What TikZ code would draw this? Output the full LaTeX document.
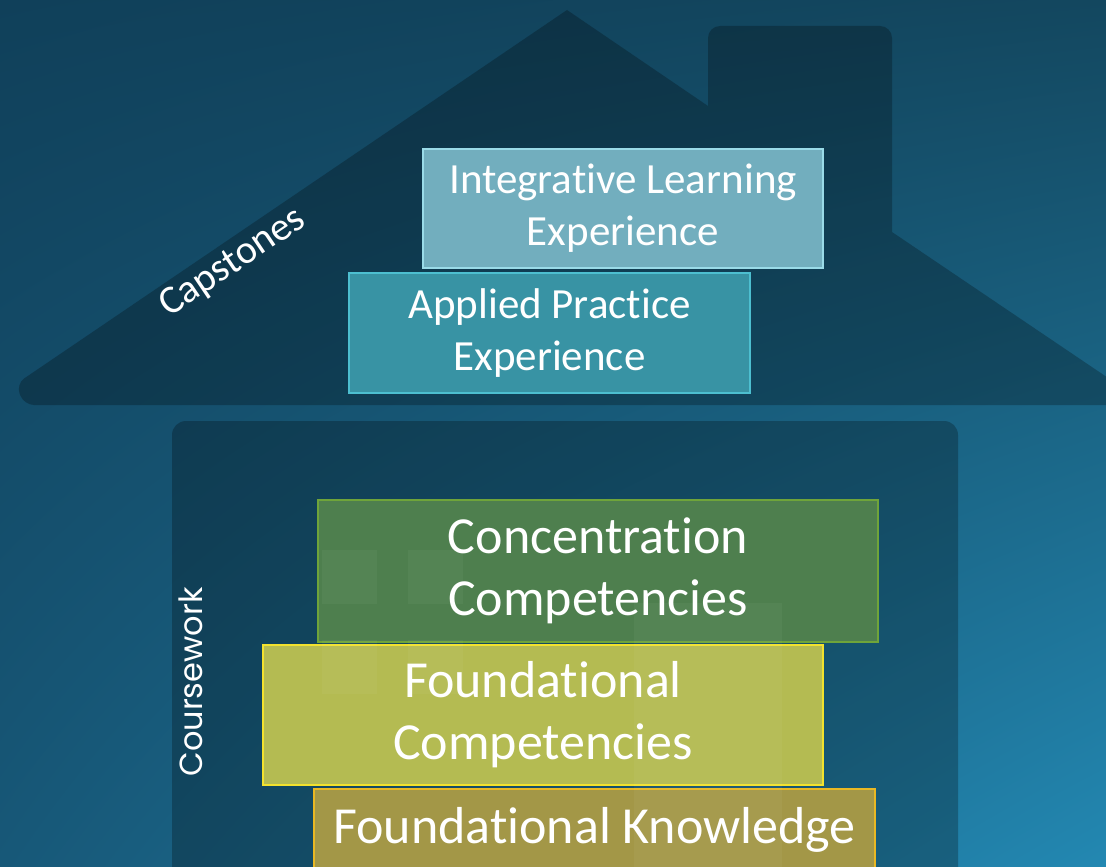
\documentclass[tikz,border=0pt]{standalone}
\usepackage{fontspec}
\setmainfont{Carlito}[Ligatures=NoCommon]
\newfontfamily\sidefont{Poppins}
\usetikzlibrary{positioning,shadings}

\definecolor{bgtl}{HTML}{10405A}
\definecolor{bgtr}{HTML}{13475F}
\definecolor{bgbl}{HTML}{175878}
\definecolor{bgbr}{HTML}{2388B2}
\definecolor{ilefill}{HTML}{72AEBE}
\definecolor{ileline}{HTML}{9ADBE8}
\definecolor{apefill}{HTML}{3893A4}
\definecolor{apeline}{HTML}{4DBFD0}
\definecolor{ccfill}{HTML}{4E7F4E}
\definecolor{ccline}{HTML}{6FA43A}
\definecolor{fcfill}{HTML}{B4BB52}
\definecolor{fcline}{HTML}{F2E22E}
\definecolor{fkfill}{HTML}{A39747}
\definecolor{fkline}{HTML}{E9B824}

\begin{document}
\begin{tikzpicture}[x=1pt,y=-1pt,
    block/.style={rectangle,draw,line width=1.5pt,text=white,align=center,inner sep=0pt},
    small text/.style={font=\fontsize{43}{52}\selectfont},
    big text/.style={font=\fontsize{52}{62}\selectfont},
    house part/.style={fill=black,opacity=0.25},
    pane/.style={fill=white,opacity=0.04}]
    \clip (0,0) rectangle (1106,867);
    \shade[upper left=bgtl,upper right=bgtr,lower left=bgbl,lower right=bgbr] (0,0) rectangle (1106,867);

    % roof with chimney, then the walls
    \fill[house part] (567,10) [rounded corners=10] -- (16,384) -- (24,405) -- (1120,405) [sharp corners] -- (1120,386)
        -- (892,232) [rounded corners=12] -- (892,26) -- (708,26) [sharp corners] -- (708,106) -- cycle;
    \fill[house part,rounded corners=14] (172,421) rectangle (958,890);

    \node[block,small text,fill=ilefill,draw=ileline,minimum width=400,minimum height=119] (ile) at (623,208.5) {Integrative Learning\\Experience};
    \node[block,small text,fill=apefill,draw=apeline,minimum width=401,minimum height=120] (ape) at (549.5,333) {Applied Practice\\Experience};

    \node[block,big text,fill=ccfill,draw=ccline,minimum width=560,minimum height=142] (cc) at (598,571) {Concentration\\Competencies};
    \node[block,big text,fill=fcfill,draw=fcline,minimum width=560,minimum height=140] (fc) at (543,715) {Foundational\\Competencies};
    \node[block,big text,fill=fkfill,draw=fkline,minimum width=561,minimum height=82] (fk) at (594.5,830) {Foundational Knowledge};

    % windows and door showing through
    \foreach \x in {322,408}
        \foreach \y in {550,640}
            \fill[pane] (\x,\y) rectangle ++(55,54);
    \fill[pane] (634,603) rectangle (782,880);

    \node[rotate=34,text=white,font=\fontsize{40}{48}\selectfont] (cap) at (233,263) {Capstones};
    \node[rotate=90,text=white,font=\sidefont\fontsize{32}{38}\selectfont] (cw) at (191,682) {Coursework};
\end{tikzpicture}
\end{document}
